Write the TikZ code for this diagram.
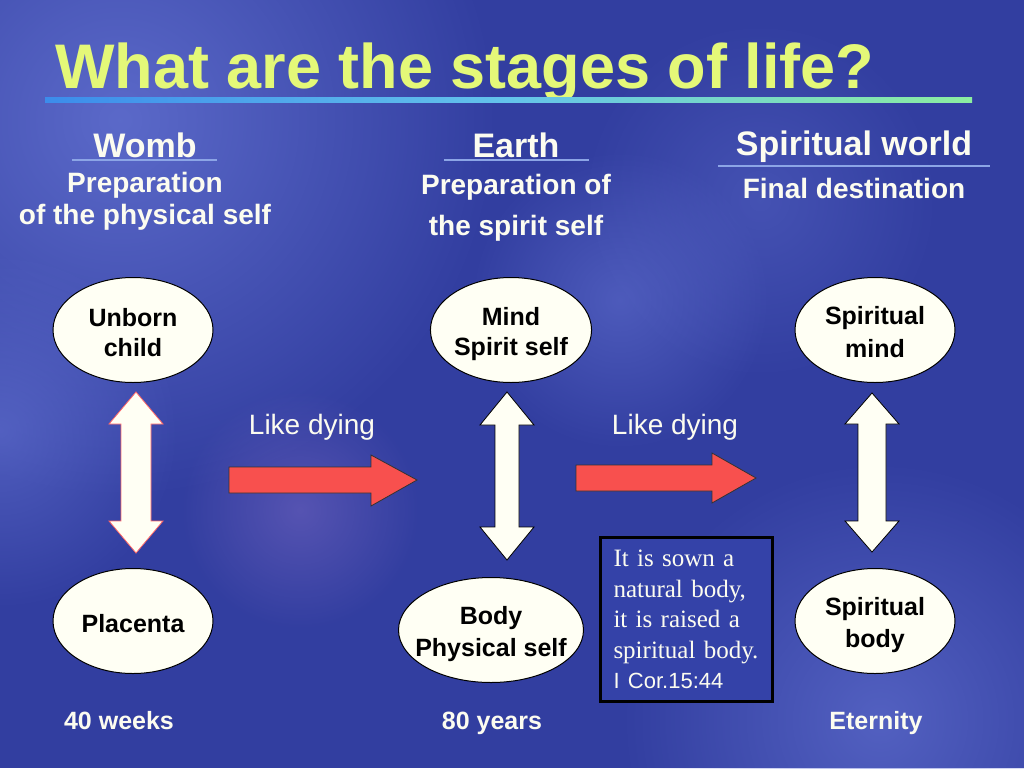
\documentclass[tikz,border=0pt]{standalone}
\usepackage{fontspec}
\setmainfont{Liberation Sans}
\newfontfamily\timesf{Liberation Serif}
\usetikzlibrary{shapes.geometric,calc,fadings}
\definecolor{bgblue}{RGB}{50,62,160}
\definecolor{glowblue}{RGB}{105,120,215}
\definecolor{flare}{RGB}{130,110,200}
\definecolor{titleyel}{RGB}{228,248,120}
\definecolor{lineblue}{RGB}{60,140,235}
\definecolor{linemid}{RGB}{100,195,235}
\definecolor{linegreen}{RGB}{140,238,160}
\definecolor{ulblue}{RGB}{140,165,230}
\definecolor{ivory}{RGB}{255,255,244}
\definecolor{arrred}{RGB}{248,80,78}
\definecolor{boxblue}{RGB}{52,66,168}
\definecolor{wtext}{RGB}{252,252,240}
\newcommand{\ostrut}{\rule[-4pt]{0pt}{30pt}}
\tikzfading[name=glowfade, inner color=transparent!0, outer color=transparent!100]
\tikzset{
  hdr/.style={font=\fontsize{34}{38}\selectfont\bfseries, text=wtext, inner sep=0pt},
  sub/.style={font=\fontsize{28}{32}\selectfont\bfseries, text=wtext, inner sep=0pt, align=center},
  ul/.style={draw=ulblue, line width=1.5pt},
  oval/.style={ellipse, draw=black, line width=1pt, fill=ivory, minimum width=160pt, minimum height=105pt, inner sep=0pt, align=center, font=\fontsize{25}{30}\selectfont\bfseries, text=black},
  wdbl/.style={fill=ivory, draw=black, line width=0.8pt, line join=miter},
  rarr/.style={fill=arrred, draw=black!80, line width=0.8pt, line join=miter},
  dying/.style={font=\fontsize{28}{32}\selectfont, text=wtext, inner sep=0pt, anchor=base},
  dur/.style={font=\fontsize{25}{30}\selectfont\bfseries, text=wtext, inner sep=0pt, anchor=base},
  glow/.style={path fading=glowfade}
}
\begin{document}
\begin{tikzpicture}[x=1pt,y=-1pt]
\useasboundingbox (0,0) rectangle (1024,768);
\fill[bgblue] (0,0) rectangle (1024,768);
\begin{scope}
\clip (0,0) rectangle (1024,768);
\fill[glowblue, glow, opacity=0.75] (120,120) circle (380);
\fill[glowblue, glow, opacity=0.55] (0,430) circle (180);
\fill[glowblue, glow, opacity=0.5] (620,300) circle (150);
\fill[flare, glow, opacity=0.45] (300,510) circle (120);
\fill[glowblue, glow, opacity=0.6] (880,720) circle (260);
\fill[glowblue, glow, opacity=0.35] (760,200) circle (180);
\end{scope}

% title
\node[font=\fontsize{63}{70}\selectfont\bfseries, text=titleyel, inner sep=0pt, anchor=base west] (title) at (55,88) {What are the stages of life?};
\shade[left color=lineblue, right color=linegreen, middle color=linemid] (45,97) rectangle (972,102);

% headers
\node[hdr] (hw) at (145,145) {Womb};
\draw[ul] (72,160) -- (217,160);
\node[sub] (sw) at (145,201) {Preparation\\of the physical self};

\node[hdr] (he) at (516,145) {Earth};
\draw[ul] (444,160) -- (589,160);
\node[sub, font=\fontsize{28}{41}\selectfont\bfseries] (se) at (516,208) {Preparation of\\the spirit self};

\node[hdr] (hs) at (854,147) {Spiritual world};
\draw[ul] (718,166) -- (990,166);
\node[sub] (ss) at (854,188) {Final destination};

% ovals
\node[oval] (u1) at (133,330) {Unborn\ostrut\\child\ostrut};
\node[oval] (u2) at (511,330) {Mind\ostrut\\Spirit self\ostrut};
\node[oval] (u3) at (875,330) {Spiritual\ostrut\\mind\ostrut};
\node[oval] (l1) at (133,621) {Placenta\ostrut};
\node[oval, minimum width=185pt, inner xsep=-12pt] (l2) at (491,630) {Body\ostrut\\Physical self\ostrut};
\node[oval] (l3) at (875,621) {Spiritual\ostrut\\body\ostrut};

% white double arrows
\coordinate (a1) at ($(u1.south)+(3,9)$);
\draw[wdbl, draw=red!60!white] (a1) -- ++(27,32) -- ++(-12,0) -- ++(0,97) -- ++(12,0) -- ++(-27,32) -- ++(-27,-32) -- ++(12,0) -- ++(0,-97) -- ++(-12,0) -- cycle;
\coordinate (a2) at ($(u2.south)+(-4,9)$);
\draw[wdbl] (a2) -- ++(27,33) -- ++(-15,0) -- ++(0,102) -- ++(15,0) -- ++(-27,33) -- ++(-27,-33) -- ++(15,0) -- ++(0,-102) -- ++(-15,0) -- cycle;
\coordinate (a3) at ($(u3.south)+(-3,10)$);
\draw[wdbl] (a3) -- ++(27,31) -- ++(-13,0) -- ++(0,97) -- ++(13,0) -- ++(-27,31) -- ++(-27,-31) -- ++(13,0) -- ++(0,-97) -- ++(-13,0) -- cycle;

% red arrows
\coordinate (r1) at (229,480);
\draw[rarr] (r1) -- ++(0,-13) -- ++(142,0) -- ++(0,-12) -- ++(46,25) -- ++(-46,26) -- ++(0,-13) -- ++(-142,0) -- cycle;
\coordinate (r2) at (576,478);
\draw[rarr] (r2) -- ++(0,-13) -- ++(136,0) -- ++(0,-12) -- ++(44,25) -- ++(-44,25) -- ++(0,-12) -- ++(-136,0) -- cycle;

\node[dying] (d1) at (312,434) {Like dying};
\node[dying] (d2) at (675,434) {Like dying};

% quote box
\node[draw=black, line width=3pt, fill=boxblue, minimum width=172pt, minimum height=164pt, anchor=north west, inner xsep=12pt, inner ysep=0pt, text width=146pt, align=left, text=wtext, font=\timesf\fontsize{25}{30.5}\selectfont] (qb) at (599,536) {It is sown a\\natural body,\\it is raised a\\spiritual body.\\{\rmfamily\fontsize{22}{26}\selectfont I Cor.15:44}};

% durations
\node[dur] (t1) at (119,729) {40 weeks};
\node[dur] (t2) at (492,729) {80 years};
\node[dur] (t3) at (876,729) {Eternity};
\end{tikzpicture}
\end{document}
